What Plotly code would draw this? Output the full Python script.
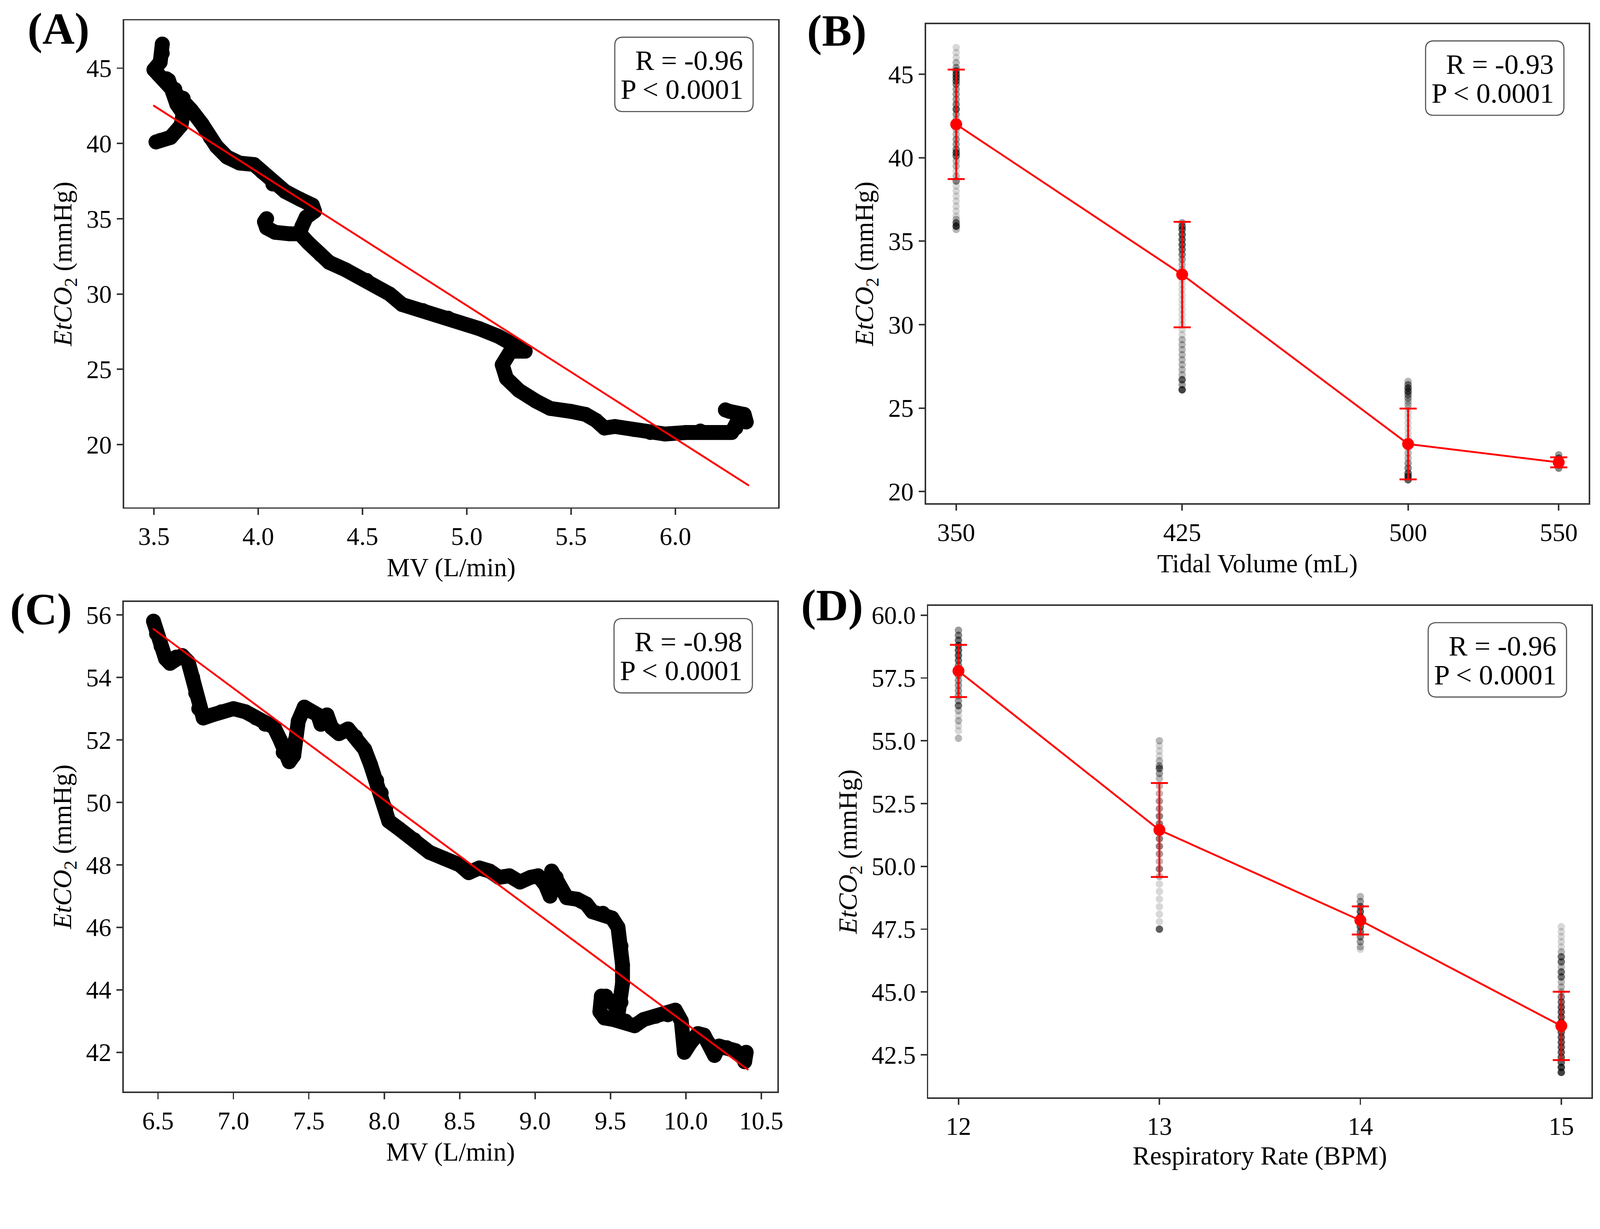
import plotly.graph_objects as go

# ---------------- data ----------------
# Panel A: EtCO2 vs minute ventilation (traced path segments)
a_seg1_x = [3.54, 3.54, 3.53, 3.50, 3.52, 3.56, 3.60, 3.64, 3.68, 3.73, 3.77, 3.80, 3.85, 3.91, 3.98, 4.02, 4.07, 4.13, 4.20, 4.26, 4.27, 4.23, 4.21, 4.20]
a_seg1_y = [46.6, 46.0, 45.4, 44.9, 44.6, 44.3, 43.6, 43.0, 42.2, 41.3, 40.4, 39.8, 39.1, 38.7, 38.6, 38.1, 37.3, 36.8, 36.3, 35.9, 35.5, 35.1, 34.5, 34.1]
a_seg2_x = [3.51, 3.53, 3.58, 3.63, 3.64, 3.61, 3.59, 3.57]
a_seg2_y = [40.1, 40.2, 40.4, 41.2, 42.0, 42.6, 43.4, 44.2]
a_seg3_x = [4.04, 4.03, 4.04, 4.08, 4.15, 4.20, 4.24, 4.30, 4.34, 4.42, 4.52, 4.63, 4.69, 4.79, 4.91, 5.06, 5.15, 5.22, 5.28, 5.21, 5.17, 5.19, 5.25, 5.33, 5.40, 5.50, 5.57, 5.62, 5.66, 5.71, 5.80, 5.88, 5.95, 6.05, 6.12, 6.22, 6.27, 6.29, 6.30, 6.34, 6.33, 6.26, 6.24]
a_seg3_y = [35.0, 34.8, 34.4, 34.1, 34.0, 34.0, 33.4, 32.6, 32.1, 31.6, 30.9, 30.0, 29.3, 28.9, 28.4, 27.7, 27.2, 26.7, 26.2, 26.2, 25.3, 24.4, 23.6, 22.9, 22.4, 22.2, 22.0, 21.6, 21.1, 21.2, 21.0, 20.8, 20.7, 20.8, 20.9, 20.8, 20.8, 21.1, 21.6, 21.5, 22.0, 22.2, 22.3]
a_fit_x = [3.50, 6.35]
a_fit_y = [42.5, 17.3]
a_stats = ["R = -0.96", "P &lt; 0.0001"]

# Panel B: EtCO2 by tidal volume
b_levels = [350, 425, 500, 550]
b_mean = [42.0, 33.0, 22.85, 21.75]
b_sd = [3.28, 3.16, 2.12, 0.30]
b_vals = [
    [46.6, 46.3, 46.0, 45.7, 45.4, 45.2, 45.0, 44.8, 44.6, 44.4, 44.1, 43.8, 43.5, 43.2, 42.9, 42.6, 42.3, 42.0, 41.7, 41.4, 41.1, 40.8, 40.5, 40.3, 40.1, 39.8, 39.5, 39.2, 38.9, 38.6, 38.3, 38.0, 37.7, 37.4, 37.1, 36.8, 36.5, 36.3, 36.1, 35.9, 35.7],
    [36.1, 35.9, 35.7, 35.4, 35.1, 34.8, 34.5, 34.2, 33.9, 33.6, 33.3, 33.0, 32.7, 32.4, 32.1, 31.8, 31.5, 31.2, 30.9, 30.6, 30.3, 30.0, 29.7, 29.4, 29.1, 28.8, 28.5, 28.2, 27.9, 27.6, 27.3, 27.0, 26.7, 26.4, 26.1],
    [26.6, 26.4, 26.2, 26.0, 25.8, 25.6, 25.4, 25.2, 25.0, 24.7, 24.4, 24.1, 23.8, 23.5, 23.2, 22.9, 22.6, 22.3, 22.0, 21.7, 21.4, 21.1, 20.9, 20.7],
    [22.2, 22.0, 21.8, 21.6, 21.4],
]
b_counts = [
    [1, 1, 1, 2, 3, 5, 6, 6, 5, 4, 3, 3, 3, 4, 6, 3, 2, 2, 2, 2, 3, 3, 4, 6, 5, 2, 2, 1, 2, 4, 1, 1, 1, 1, 1, 1, 1, 2, 5, 8, 2],
    [3, 5, 6, 6, 6, 6, 5, 4, 3, 2, 2, 2, 1, 1, 1, 1, 1, 1, 1, 1, 1, 1, 1, 1, 2, 2, 2, 2, 2, 2, 2, 2, 6, 3, 8],
    [2, 4, 6, 6, 4, 3, 2, 2, 1, 1, 1, 1, 1, 1, 1, 1, 1, 2, 2, 3, 4, 6, 8, 6],
    [3, 5, 6, 6, 4],
]
b_stats = ["R = -0.93", "P &lt; 0.0001"]

# Panel C: EtCO2 vs minute ventilation (traced path)
c_x = [6.47, 6.49, 6.52, 6.55, 6.58, 6.62, 6.66, 6.70, 6.73, 6.75, 6.77, 6.80, 6.86, 6.92, 7.00, 7.08, 7.15, 7.21, 7.27, 7.31, 7.33, 7.37, 7.40, 7.41, 7.43, 7.47, 7.52, 7.56, 7.58, 7.62, 7.65, 7.70, 7.76, 7.81, 7.87, 7.91, 7.95, 7.98, 8.01, 8.03, 8.10, 8.20, 8.30, 8.40, 8.50, 8.56, 8.63, 8.70, 8.76, 8.83, 8.90, 8.97, 9.02, 9.07, 9.10, 9.11, 9.14, 9.17, 9.21, 9.28, 9.34, 9.38, 9.45, 9.51, 9.55, 9.57, 9.58, 9.58, 9.57, 9.55, 9.52, 9.47, 9.44, 9.43, 9.46, 9.52, 9.60, 9.66, 9.72, 9.80, 9.88, 9.93, 9.97, 9.99, 9.99, 10.03, 10.08, 10.12, 10.15, 10.19, 10.22, 10.27, 10.33, 10.38, 10.40, 10.39]
c_y = [55.8, 55.4, 55.0, 54.6, 54.45, 54.65, 54.7, 54.5, 54.0, 53.5, 53.0, 52.7, 52.8, 52.9, 53.0, 52.9, 52.7, 52.5, 52.4, 52.0, 51.6, 51.3, 51.5, 52.0, 52.6, 53.05, 52.9, 52.8, 52.5, 52.8, 52.4, 52.2, 52.35, 52.1, 51.7, 51.2, 50.7, 50.3, 49.8, 49.4, 49.15, 48.8, 48.4, 48.2, 48.0, 47.75, 47.9, 47.8, 47.6, 47.65, 47.45, 47.6, 47.65, 47.35, 47.0, 47.8, 47.6, 47.2, 46.95, 46.9, 46.75, 46.5, 46.45, 46.3, 46.0, 45.4, 44.8, 44.2, 43.6, 43.2, 43.6, 43.8, 43.8, 43.3, 43.1, 43.05, 43.0, 42.85, 43.05, 43.15, 43.2, 43.35, 43.0, 42.4, 42.0, 42.3, 42.6, 42.55, 42.3, 41.9, 42.2, 42.15, 42.05, 41.8, 42.0, 41.7]
c_fit_x = [6.47, 10.41]
c_fit_y = [55.55, 41.45]
c_stats = ["R = -0.98", "P &lt; 0.0001"]

# Panel D: EtCO2 by respiratory rate
d_levels = [12, 13, 14, 15]
d_mean = [57.78, 51.45, 47.85, 43.65]
d_sd = [1.04, 1.87, 0.56, 1.36]
d_vals = [
    [59.4, 59.2, 59.0, 58.8, 58.6, 58.4, 58.2, 58.0, 57.8, 57.6, 57.4, 57.2, 57.0, 56.8, 56.6, 56.4, 56.2, 56.0, 55.8, 55.6, 55.4, 55.1],
    [55.0, 54.8, 54.6, 54.4, 54.2, 54.0, 53.9, 53.7, 53.5, 53.2, 52.9, 52.6, 52.3, 52.0, 51.7, 51.4, 51.1, 50.8, 50.5, 50.2, 49.9, 49.6, 49.3, 49.0, 48.7, 48.4, 48.1, 47.8, 47.5],
    [48.8, 48.6, 48.4, 48.2, 48.0, 47.8, 47.6, 47.4, 47.2, 47.0, 46.8, 46.7],
    [47.6, 47.4, 47.2, 47.0, 46.8, 46.6, 46.4, 46.2, 46.0, 45.8, 45.6, 45.4, 45.2, 45.0, 44.8, 44.6, 44.4, 44.2, 44.0, 43.8, 43.6, 43.4, 43.2, 43.0, 42.8, 42.6, 42.4, 42.2, 42.0, 41.8],
]
d_counts = [
    [3, 4, 5, 6, 6, 6, 5, 4, 3, 3, 3, 3, 3, 3, 3, 5, 2, 1, 2, 1, 1, 2],
    [2, 1, 1, 1, 2, 3, 5, 3, 2, 2, 2, 3, 3, 4, 4, 4, 4, 4, 3, 2, 4, 2, 1, 1, 1, 1, 1, 1, 6],
    [2, 3, 5, 6, 6, 6, 6, 5, 4, 3, 2, 1],
    [1, 1, 1, 1, 1, 2, 5, 5, 2, 5, 5, 2, 2, 2, 4, 5, 6, 6, 6, 6, 6, 6, 6, 6, 6, 6, 6, 6, 8, 8],
]
d_stats = ["R = -0.96", "P &lt; 0.0001"]

panel_labels = ["(A)", "(B)", "(C)", "(D)"]

# ---------------- figure ----------------
W, H = 4302, 3146
FONT = "Liberation Serif"
fig = go.Figure()

def X(p):
    return p / W

def Y(p):
    return 1 - p / H

# frame pixel boxes (left, top, right, bottom)
frames = {
    1: (334, 55, 2092, 1364),
    2: (2490, 65, 4272, 1353),
    3: (333, 1618, 2090, 2935),
    4: (2496, 1629, 4279, 2950),
}

def axref(i):
    return ("x" if i == 1 else f"x{i}", "y" if i == 1 else f"y{i}")

BLACK_LW = 40

# Panel A
for sx, sy in [(a_seg1_x, a_seg1_y), (a_seg2_x, a_seg2_y), (a_seg3_x, a_seg3_y)]:
    fig.add_trace(go.Scatter(x=sx, y=sy, mode="lines+markers", xaxis="x", yaxis="y",
                             line=dict(color="black", width=BLACK_LW),
                             marker=dict(color="black", size=BLACK_LW)))
fig.add_trace(go.Scatter(x=a_fit_x, y=a_fit_y, mode="lines", xaxis="x", yaxis="y",
                         line=dict(color="red", width=5)))

# Panel C
fig.add_trace(go.Scatter(x=c_x, y=c_y, mode="lines+markers", xaxis="x3", yaxis="y3",
                         line=dict(color="black", width=BLACK_LW),
                         marker=dict(color="black", size=BLACK_LW)))
fig.add_trace(go.Scatter(x=c_fit_x, y=c_fit_y, mode="lines", xaxis="x3", yaxis="y3",
                         line=dict(color="red", width=5)))

# Panels B and D: raw points + mean/SD
def add_group_panel(levels, vals, counts, mean, sd, xa, ya):
    gx, gy = [], []
    for lev, vs, cs in zip(levels, vals, counts):
        for v, c in zip(vs, cs):
            for _ in range(c):
                gx.append(lev)
                gy.append(v)
    fig.add_trace(go.Scatter(x=gx, y=gy, mode="markers", xaxis=xa, yaxis=ya,
                             marker=dict(color="black", size=18, opacity=0.15,
                                         line=dict(color="black", width=2))))
    fig.add_trace(go.Scatter(x=levels, y=mean, mode="lines+markers", xaxis=xa, yaxis=ya,
                             line=dict(color="red", width=5),
                             marker=dict(color="red", size=32),
                             error_y=dict(type="data", array=sd, visible=True,
                                          color="red", thickness=5, width=23)))

add_group_panel(b_levels, b_vals, b_counts, b_mean, b_sd, "x2", "y2")
add_group_panel(d_levels, d_vals, d_counts, d_mean, d_sd, "x4", "y4")

axis_common = dict(showline=True, mirror=True, linecolor="#333", linewidth=4,
                   ticks="outside", ticklen=16, tickwidth=4, tickcolor="#333",
                   showgrid=False, zeroline=False, automargin=False,
                   tickfont=dict(family=FONT, size=68, color="black"))
title_font = dict(family=FONT, size=70, color="black")
ytitle = "<i>EtCO</i><sub>2</sub> (mmHg)"

axes_cfg = {
    1: dict(xr=[3.3575, 6.4925], yr=[15.83, 48.17], xt=[3.5, 4.0, 4.5, 5.0, 5.5, 6.0], xf=".1f",
            yt=[20, 25, 30, 35, 40, 45], yf="", xtitle="MV (L/min)"),
    2: dict(xr=[340, 560], yr=[19.3, 48.0], xt=b_levels, xf="", yt=[20, 25, 30, 35, 40, 45], yf="",
            xtitle="Tidal Volume (mL)"),
    3: dict(xr=[6.2735, 10.6065], yr=[40.74, 56.42], xt=[6.5, 7.0, 7.5, 8.0, 8.5, 9.0, 9.5, 10.0, 10.5], xf=".1f",
            yt=[42, 44, 46, 48, 50, 52, 54, 56], yf="", xtitle="MV (L/min)"),
    4: dict(xr=[11.85, 15.15], yr=[40.81, 60.37], xt=d_levels, xf="", yt=[42.5, 45.0, 47.5, 50.0, 52.5, 55.0, 57.5, 60.0], yf=".1f",
            xtitle="Respiratory Rate (BPM)"),
}

layout_axes = {}
for i, cfg in axes_cfg.items():
    l, t, r, b = frames[i]
    xname = "xaxis" if i == 1 else f"xaxis{i}"
    yname = "yaxis" if i == 1 else f"yaxis{i}"
    xa, ya = axref(i)
    layout_axes[xname] = dict(axis_common, domain=[X(l), X(r)], range=cfg["xr"], anchor=ya,
                              tickmode="array", tickvals=cfg["xt"], tickformat=cfg["xf"],
                              title=dict(text=cfg["xtitle"], font=title_font, standoff=22))
    layout_axes[yname] = dict(axis_common, domain=[Y(b), Y(t)], range=cfg["yr"], anchor=xa,
                              tickmode="array", tickvals=cfg["yt"], tickformat=cfg["yf"],
                              title=dict(text=ytitle, font=title_font, standoff=18))

def rrect(x0, y0, x1, y1, rad):
    return (f"M {X(x0+rad)},{Y(y0)} L {X(x1-rad)},{Y(y0)} Q {X(x1)},{Y(y0)} {X(x1)},{Y(y0+rad)} "
            f"L {X(x1)},{Y(y1-rad)} Q {X(x1)},{Y(y1)} {X(x1-rad)},{Y(y1)} "
            f"L {X(x0+rad)},{Y(y1)} Q {X(x0)},{Y(y1)} {X(x0)},{Y(y1-rad)} "
            f"L {X(x0)},{Y(y0+rad)} Q {X(x0)},{Y(y0)} {X(x0+rad)},{Y(y0)} Z")

shapes, annotations = [], []
stats = {1: a_stats, 2: b_stats, 3: c_stats, 4: d_stats}
for i in range(1, 5):
    l, t, r, b = frames[i]
    bx1 = r - 67
    bx0 = bx1 - 372
    by0 = t + 45
    by1 = by0 + 200
    shapes.append(dict(type="path", xref="paper", yref="paper", path=rrect(bx0, by0, bx1, by1, 22),
                       line=dict(color="#555", width=3), fillcolor="white", layer="above"))
    for k, txt in enumerate(stats[i]):
        annotations.append(dict(xref="paper", yref="paper", x=X(bx1 - 25), y=Y(by0 + 62 + 78 * k),
                                xanchor="right", yanchor="middle", text=txt, showarrow=False,
                                font=dict(family=FONT, size=76, color="black")))

label_pos = {1: (72, 77), 2: (2168, 82), 3: (25, 1637), 4: (2152, 1627)}
for i, lab in enumerate(panel_labels, start=1):
    x0, y0 = label_pos[i]
    annotations.append(dict(xref="paper", yref="paper", x=X(x0), y=Y(y0), xanchor="left",
                            yanchor="middle", text=f"<b>{lab}</b>", showarrow=False,
                            font=dict(family=FONT, size=120, color="black")))

fig.update_layout(width=W, height=H, margin=dict(l=0, r=0, t=0, b=0), autosize=False,
                  paper_bgcolor="white", plot_bgcolor="white", showlegend=False,
                  font=dict(family=FONT, color="black"),
                  shapes=shapes, annotations=annotations, **layout_axes)

# fit the fixed-size figure into the browser viewport and round the thick path joins
post_js = """
var gd = document.getElementById('{plot_id}');
document.documentElement.style.margin = '0';
document.body.style.margin = '0';
document.documentElement.style.overflow = 'hidden';
document.body.style.overflow = 'hidden';
var st = document.createElement('style');
st.textContent = '.scatterlayer .js-line{stroke-linejoin:round;stroke-linecap:round;}';
document.head.appendChild(st);
function fitFig(){
  var s = Math.min(window.innerWidth / 4302, window.innerHeight / 3146);
  gd.style.transformOrigin = '0 0';
  gd.style.transform = 'scale(' + s + ')';
}
fitFig();
window.addEventListener('resize', fitFig);
"""

fig.write_html("out.html", post_script=post_js, config={"displayModeBar": False})
